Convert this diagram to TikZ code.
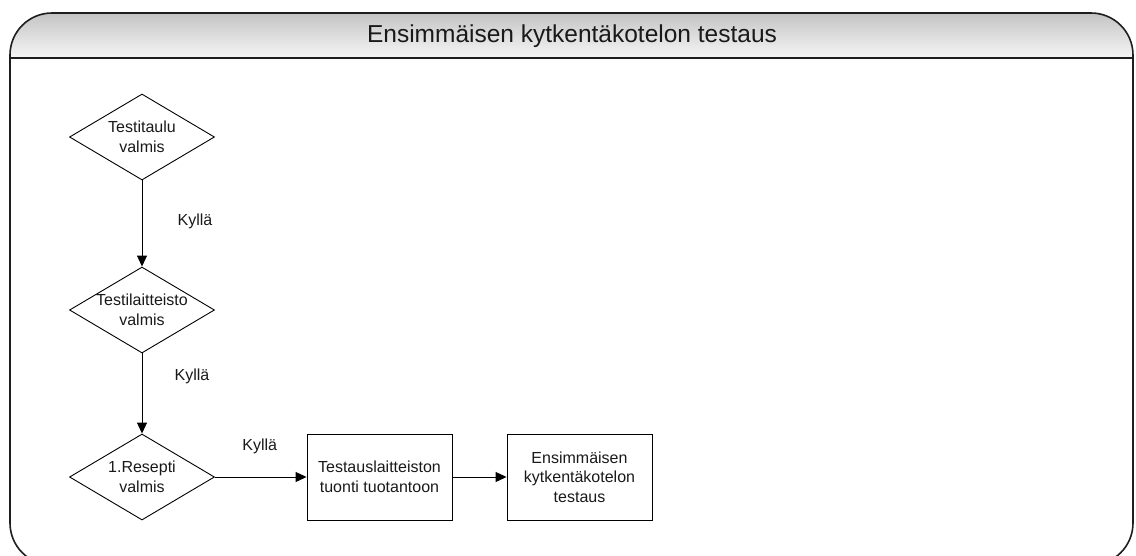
\documentclass[tikz,border=0pt]{standalone}
\usepackage{fontspec}
\setmainfont{Liberation Sans}
\usetikzlibrary{shapes.geometric,arrows.meta}
\definecolor{headtop}{RGB}{196,196,196}
\definecolor{headbot}{RGB}{246,246,246}
\definecolor{frameline}{RGB}{30,30,30}
\definecolor{ink}{RGB}{25,25,25}
\begin{document}
\begin{tikzpicture}[x=1pt,y=-1pt,
  txt/.style={font=\fontsize{16}{19.5}\selectfont, align=center, text=ink},
  decision/.style={diamond, draw=black, line width=0.9pt, minimum width=145pt,
    minimum height=86pt, inner sep=0pt},
  process/.style={rectangle, draw=black, line width=0.9pt, minimum width=145pt,
    minimum height=86pt, inner sep=0pt, txt},
  arr/.style={draw=black, line width=0.9pt, -{Triangle[length=11pt,width=10pt]}},
  lbl/.style={txt, inner sep=0pt}
]
\useasboundingbox (0,0) rectangle (1136,555);

% swimlane frame with shaded header
\begin{scope}
  \clip[rounded corners=42pt] (10,13) rectangle (1133,565);
  \shade[top color=headtop, bottom color=headbot] (10,13) rectangle (1133,58);
\end{scope}
\draw[frameline, line width=1.6pt, rounded corners=42pt] (10,13) rectangle (1133,565);
\draw[frameline, line width=1.4pt] (10,58) -- (1133,58);
\node[font=\fontsize{24.5}{28}\selectfont, text=ink] (title) at (572,36) {Ensimmäisen kytkentäkotelon testaus};

% decisions
\node[decision, label={[txt]center:Testitaulu\\valmis}] (d1) at (142,137) {};
\node[decision, label={[txt]center:Testilaitteisto\\valmis}] (d2) at (142,310) {};
\node[decision, label={[txt]center:1.Resepti\\valmis}] (d3) at (142,477) {};

% processes
\node[process] (p1) at (379.5,477) {Testauslaitteiston\\tuonti tuotantoon};
\node[process] (p2) at (579.5,477) {Ensimmäisen\\kytkentäkotelon\\testaus};

% connectors
\draw[arr] (d1.south) -- node[lbl, xshift=53pt, yshift=2pt] (k1) {Kyllä} (d2.north);
\draw[arr] (d2.south) -- node[lbl, xshift=50pt, yshift=17pt] (k2) {Kyllä} (d3.north);
\draw[arr] (d3.east) -- node[lbl, xshift=-1pt, yshift=31pt] (k3) {Kyllä} (p1.west);
\draw[arr] (p1.east) -- (p2.west);
\end{tikzpicture}
\end{document}
